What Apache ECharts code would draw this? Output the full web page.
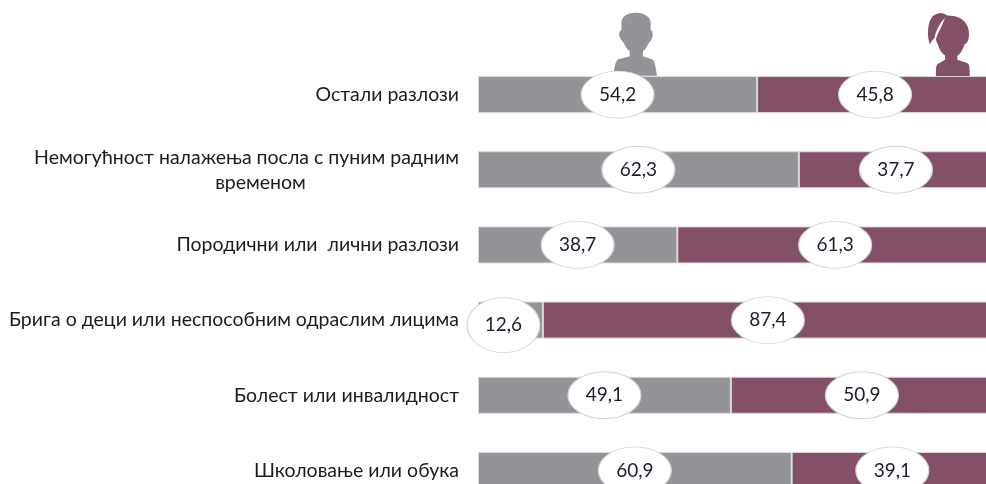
<!DOCTYPE html>
<html><head><meta charset="utf-8">
<style>html,body{margin:0;padding:0;background:#fff;overflow:hidden}#c{width:986px;height:484px}</style>
<script src="https://cdn.jsdelivr.net/npm/echarts@6/dist/echarts.min.js"></script>
</head><body><div id="c"></div>
<script>
const categories = ['Остали разлози','Немогућност налажења посла с пуним радним\nвременом','Породични или  лични разлози','Брига о деци или неспособним одраслим лицима','Болест или инвалидност','Школовање или обука'];
const men = [54.2,62.3,38.7,12.6,49.1,60.9];
const women = [45.8,37.7,61.3,87.4,50.9,39.1];
const GRAY='#929497', PLUM='#835067', FONT='Lato, "Open Sans", sans-serif';
const fmt = v => v.toFixed(1).replace('.',',');
const menMid = men.map((v,i)=>v<20?{value:[v/2,i,v],symbolSize:[73,55],symbolOffset:[-7,5]}:{value:[v/2,i,v]});
const womenMid = women.map((v,i)=>({value:[men[i]+v/2,i,v]}));
const bubble = (data)=>({type:'scatter',data,symbol:'circle',symbolSize:[73,47],z:5,clip:false,
  itemStyle:{color:'#fff',borderColor:'#d4d4d4',borderWidth:1,opacity:1},
  label:{show:true,position:'inside',color:'#1c1c2c',fontFamily:FONT,fontSize:19,formatter:p=>fmt(p.value[2])},
  encode:{x:0,y:1}});
const bar=(name,data,color)=>({type:'bar',name,stack:'t',data,barWidth:37,itemStyle:{color,borderColor:'#d8d8d8',borderWidth:1}});
const MAN='M23 0.7C14 0.7 8.5 5 8.7 11.3L8.7 18C6.5 19 5.5 23 8 27C9.5 29 10.5 30 11 31C13 35 15 38 17 39L17 44L6 47C3 48 2.5 52 0.3 63.5L44.3 63.5C42.5 52 42 48 39 47L30.3 44L30.3 39C32 38 34 35 36 31C37 30 38 29 39 27C41 23 40 19 38 18L38 11.3C38 5 32 0.7 23 0.7Z';
const WOMAN='M2 33C-0.5 26 -0.5 14 3 8C6 3 12 1 16 3C18 4 19 5 22 5C33 5 41 13 40.5 23C40.5 30 38 32 36 33C34 39 32 42 29 44L29 48L38 51C41 52 41.3 55 41.3 64L8 64C8 55 8 52 12 51L17 48L17 44C13 41 11 37 10 33C8 30 8 28 8 26C6 27 4 29 2 33Z';
const STREAK='M6 32C6 24 9 14 17 6C14 14 11 19 9 24C8 27 7 29 6 32Z';
const icon=(pathData,x,y,width,height,fill)=>({type:'path',shape:{pathData,x,y,width,height,layout:'cover'},style:{fill}});
const lineStyle={fontFamily:FONT,fontSize:19.5,lineHeight:25,color:'#1c1c1c',align:'center'};
const chart=echarts.init(document.getElementById('c'),null,{renderer:'canvas'});
chart.setOption({
  animation:false,backgroundColor:'#fff',
  grid:{left:478,top:57,width:515,height:451,containLabel:false,outerBoundsMode:'none'},
  xAxis:{type:'value',min:0,max:100,show:false},
  yAxis:{type:'category',inverse:true,data:categories,axisLine:{show:false},axisTick:{show:false},
    axisLabel:{margin:19,color:'#1c1c1c',fontFamily:FONT,fontSize:19.5,lineHeight:25,
      formatter:v=>{const p=v.split('\n');return p.length>1?'{a|'+p[0]+'}\n{b|'+p[1]+'}':v;},
      rich:{a:{...lineStyle,width:425},b:{...lineStyle,width:397,padding:[0,0,0,28]}}}},
  series:[bar('Мушкарци',men,GRAY),bar('Жене',women,PLUM),bubble(menMid),bubble(womenMid),
   {type:'custom',coordinateSystem:'none',data:[0],silent:true,z:1,clip:false,
    renderItem:()=>({type:'group',children:[
      icon(MAN,613,12.7,44,63,GRAY),icon(WOMAN,928,13,41.8,63,PLUM),icon(STREAK,934,18,11,26,'#fff')]})}]
});
</script></body></html>
